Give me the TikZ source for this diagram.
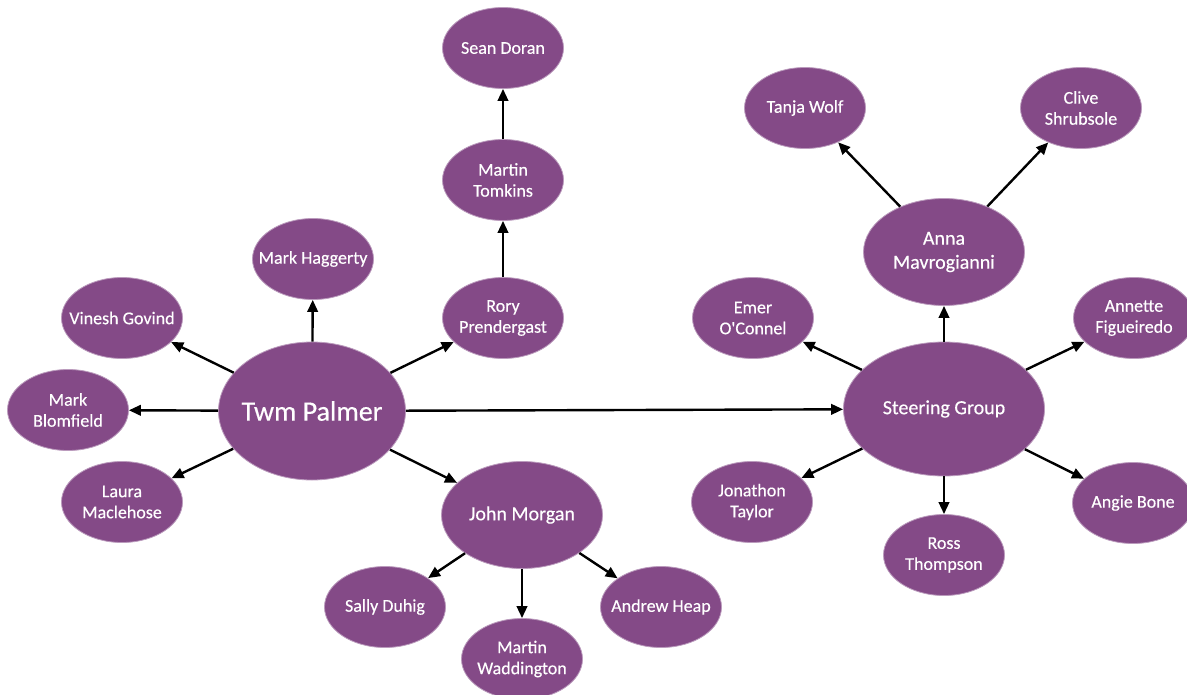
\documentclass[tikz,border=0pt]{standalone}
\usepackage{fontspec}
\setmainfont{Carlito}
\newfontfamily\nmfont{Carlito}[FakeBold=0.35]
\usetikzlibrary{shapes.geometric,arrows.meta}
\definecolor{plum}{RGB}{132,74,135}
\tikzset{
  pers/.style={ellipse, fill=plum, draw=plum!55!white, line width=0.8pt, inner sep=0pt, minimum width=121pt, minimum height=81pt},
  big/.style={minimum width=187pt, minimum height=138pt},
  mid/.style={minimum width=161pt, minimum height=107pt},
  sg/.style={minimum width=201pt, minimum height=134pt},
  nm/.style={text=white, align=center, font=\nmfont\fontsize{18}{21}\selectfont},
  nmbig/.style={text=white, align=center, font=\nmfont\fontsize{28}{32}\selectfont},
  nmmid/.style={text=white, align=center, font=\nmfont\fontsize{20}{24}\selectfont},
  arr/.style={-{Triangle[length=12pt,width=10.5pt]}, line width=2.4pt, black}
}
\begin{document}
\begin{tikzpicture}[x=1pt,y=-1pt]
\useasboundingbox (0,0) rectangle (1187,694);
% left cluster
\node[pers,big,label={[nmbig]center:Twm Palmer}] (tp) at (312,411) {};
\node[pers,label={[nm]center:Sean Doran}] (sd) at (503,48) {};
\node[pers,label={[nm]center:{Martin\\Tomkins}}] (mt) at (503,180) {};
\node[pers,label={[nm]center:{Rory\\Prendergast}}] (rp) at (503,318) {};
\node[pers,label={[nm]center:Mark Haggerty}] (mh) at (313,259) {};
\node[pers,label={[nm]center:Vinesh Govind}] (vg) at (122,318) {};
\node[pers,label={[nm]center:{Mark\\Blomfield}}] (mb) at (68,410) {};
\node[pers,label={[nm]center:{Laura\\Maclehose}}] (lm) at (122,502) {};
\node[pers,mid,label={[nmmid]center:John Morgan}] (jm) at (522,515) {};
\node[pers,label={[nm]center:Sally Duhig}] (sdu) at (385,607) {};
\node[pers,label={[nm]center:{Martin\\Waddington}}] (mw) at (522,659) {};
\node[pers,label={[nm]center:Andrew Heap}] (ah) at (661,607) {};
% right cluster
\node[pers,sg,label={[nmmid]center:Steering Group}] (sgp) at (944,409) {};
\node[pers,mid,label={[nmmid]center:{Anna\\Mavrogianni}}] (am) at (944,252) {};
\node[pers,label={[nm]center:Tanja Wolf}] (tw) at (805,108) {};
\node[pers,label={[nm]center:{Clive\\Shrubsole}}] (cs) at (1081,108) {};
\node[pers,label={[nm]center:{Emer\\O'Connel}}] (eo) at (753,318) {};
\node[pers,label={[nm]center:{Annette\\Figueiredo}}] (af) at (1134,318) {};
\node[pers,label={[nm]center:{Jonathon\\Taylor}}] (jt) at (752,502) {};
\node[pers,label={[nm]center:{Ross\\Thompson}}] (rt) at (944,555) {};
\node[pers,label={[nm]center:Angie Bone}] (ab) at (1133,503) {};
% connectors
\draw[arr] (tp) -- (mh);
\draw[arr] (tp) -- (vg);
\draw[arr] (tp) -- (mb);
\draw[arr] (tp) -- (lm);
\draw[arr] (tp) -- (rp);
\draw[arr] (tp) -- (jm);
\draw[arr] (tp) -- (sgp);
\draw[arr] (rp) -- (mt);
\draw[arr] (mt) -- (sd);
\draw[arr] (jm) -- (sdu);
\draw[arr] (jm) -- (mw);
\draw[arr] (jm) -- (ah);
\draw[arr] (sgp) -- (am);
\draw[arr] (sgp) -- (eo);
\draw[arr] (sgp) -- (af);
\draw[arr] (sgp) -- (jt);
\draw[arr] (sgp) -- (rt);
\draw[arr] (sgp) -- (ab);
\draw[arr] (am) -- (tw);
\draw[arr] (am) -- (cs);
\end{tikzpicture}
\end{document}
